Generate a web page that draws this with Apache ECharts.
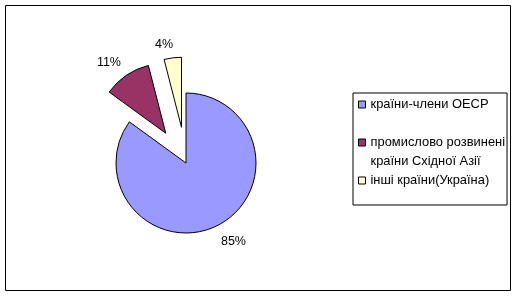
<!DOCTYPE html>
<html><head><meta charset="utf-8">
<script src="https://cdn.jsdelivr.net/npm/echarts@6/dist/echarts.min.js"></script>
<style>html,body{margin:0;padding:0;background:#fff}#c{width:516px;height:296px}</style>
</head><body><div id="c"></div>
<script>
const categories = ['країни-члени ОЕСР', 'промислово розвинені країни Східної Азії', 'інші країни(Україна)'];
const values = [85, 11, 4];
const exploded = [false, true, true];
const legendText = {
  'промислово розвинені країни Східної Азії': '\nпромислово розвинені\nкраїни Східної Азії'
};

const FONT = "'Liberation Sans', Arial, sans-serif";
const colors = ['#9999FF', '#993366', '#FFFFCC'];
const labelTweak = [{length: 18, length2: -10}, {length: 15, length2: -8}, {length: 13, length2: -7}];

const chart = echarts.init(document.getElementById('c'), null, {renderer: 'canvas'});
chart.setOption({
  animation: false,
  backgroundColor: '#fff',
  graphic: [{
    type: 'rect', silent: true,
    shape: {x: 5.5, y: 5.5, width: 505, height: 285},
    style: {fill: 'none', stroke: '#000', lineWidth: 1}
  }],
  legend: {
    orient: 'vertical', left: 353, top: 93,
    padding: [2, 2, 15, 5],
    borderColor: '#000', borderWidth: 1,
    itemWidth: 7, itemHeight: 7, itemGap: 0,
    icon: 'rect', selectedMode: false,
    itemStyle: {borderColor: '#000', borderWidth: 1},
    textStyle: {fontFamily: FONT, fontSize: 12.9, color: '#000', lineHeight: 19},
    formatter: name => legendText[name] || name,
    data: categories
  },
  series: [{
    type: 'pie', center: [186, 163], radius: 70,
    startAngle: 90, clockwise: true,
    selectedMode: 'multiple', selectedOffset: 36,
    avoidLabelOverlap: false, silent: true, percentPrecision: 0,
    label: {position: 'outside', formatter: '{d}%', color: '#000', fontSize: 12.5, fontFamily: FONT},
    labelLine: {show: false, length: 15, length2: 0},
    itemStyle: {borderColor: '#000', borderWidth: 1},
    emphasis: {disabled: true},
    data: categories.map((n, i) => ({
      name: n, value: values[i], selected: exploded[i],
      itemStyle: {color: colors[i]},
      select: {itemStyle: {color: colors[i], borderColor: '#000', borderWidth: 1}},
      labelLine: labelTweak[i]
    }))
  }]
});
</script></body></html>
